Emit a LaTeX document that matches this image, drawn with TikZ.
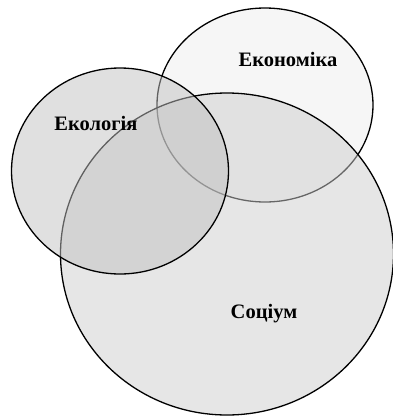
\documentclass[tikz,border=0pt]{standalone}
\usepackage{fontspec}
\setmainfont{Liberation Serif}
\usetikzlibrary{shapes.geometric}
\begin{document}
\begin{tikzpicture}[x=1pt,y=-1pt]
\tikzstyle{sphere}=[draw=black, ellipse, line width=1.3pt, inner sep=0pt]
\tikzstyle{title}=[font=\bfseries\fontsize{20.5}{22}\selectfont]

\useasboundingbox (0,0) rectangle (392,416);

\node[sphere, fill=gray!7, minimum width=216, minimum height=194] (Econ) at (265,105) {};
\node[sphere, fill={rgb,255:red,205;green,205;blue,205}, fill opacity=0.5,
      minimum width=333, minimum height=322] (Soc) at (227,254) {};
\node[sphere, fill={rgb,255:red,193;green,193;blue,193}, fill opacity=0.5,
      minimum width=217, minimum height=206] (Eco) at (120,171) {};

\node[title] (econ) at (288,59) {Економіка};
\node[title] (eco) at (96,123) {Екологія};
\node[title] (soc) at (264,314) {Соціум};

\end{tikzpicture}
\end{document}
